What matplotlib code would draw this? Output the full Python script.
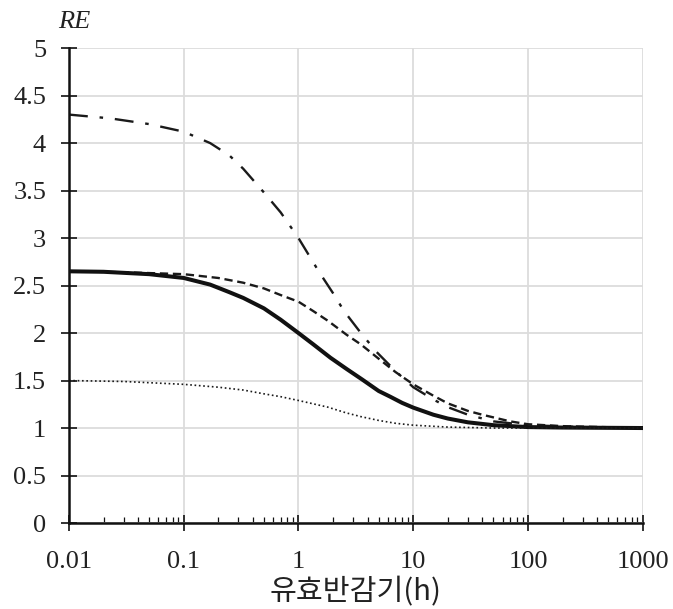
import numpy as np
import matplotlib.pyplot as plt
from matplotlib.ticker import LogLocator, FixedLocator, NullFormatter

# values (x = effective half-life in h)
x_dashdot = [0.01, 0.023, 0.05, 0.1, 0.17, 0.25, 0.33, 0.5, 0.7, 1.0, 1.5, 2.0, 2.5, 3.5, 4.8, 7, 10, 15, 20, 30, 50, 100, 300, 1000]
y_dashdot = [4.30, 4.26, 4.20, 4.12, 4.00, 3.87, 3.73, 3.48, 3.27, 3.00, 2.65, 2.42, 2.23, 2.00, 1.80, 1.60, 1.43, 1.30, 1.22, 1.14, 1.07, 1.03, 1.01, 1.00]

x_dashed = [0.01, 0.03, 0.1, 0.2, 0.33, 0.5, 0.7, 1.0, 1.35, 1.8, 2.64, 3.5, 5, 7, 10, 15, 20, 30, 40, 70, 100, 200, 1000]
y_dashed = [2.65, 2.64, 2.62, 2.58, 2.53, 2.47, 2.40, 2.33, 2.23, 2.13, 1.98, 1.88, 1.73, 1.59, 1.46, 1.34, 1.26, 1.18, 1.14, 1.07, 1.04, 1.02, 1.00]

x_solid = [0.01, 0.02, 0.05, 0.1, 0.17, 0.25, 0.33, 0.5, 0.7, 1.0, 1.35, 1.9, 2.64, 3.6, 5, 6.3, 8, 10, 15, 20, 30, 50, 100, 200, 1000]
y_solid = [2.65, 2.645, 2.62, 2.58, 2.51, 2.43, 2.37, 2.26, 2.14, 2.00, 1.88, 1.74, 1.62, 1.51, 1.39, 1.33, 1.265, 1.215, 1.14, 1.10, 1.06, 1.03, 1.01, 1.005, 1.00]

x_dotted = [0.01, 0.03, 0.1, 0.2, 0.33, 0.5, 0.7, 1.0, 1.4, 1.8, 2.6, 3.5, 5, 7, 10, 20, 50, 1000]
y_dotted = [1.50, 1.49, 1.46, 1.43, 1.40, 1.36, 1.33, 1.29, 1.25, 1.22, 1.16, 1.12, 1.08, 1.05, 1.03, 1.01, 1.00, 1.00]

xticks = [0.01, 0.1, 1, 10, 100, 1000]
xtick_labels = ["0.01", "0.1", "1", "10", "100", "1000"]
yticks = [0, 0.5, 1, 1.5, 2, 2.5, 3, 3.5, 4, 4.5, 5]
ytick_labels = ["0", "0.5", "1", "1.5", "2", "2.5", "3", "3.5", "4", "4.5", "5"]

fig = plt.figure(figsize=(6.73, 6.09), dpi=100)
ax = fig.add_axes([0.1025, 0.1412, 0.8525, 0.7798])

ax.plot(x_dashdot, y_dashdot, color="#1a1a1a", lw=1.7, dashes=(8, 5, 1.5, 5))
ax.plot(x_dashed, y_dashed, color="#1a1a1a", lw=1.7, dashes=(3.5, 2))
ax.plot(x_solid, y_solid, color="#111111", lw=2.9)
ax.plot(x_dotted, y_dotted, color="#1a1a1a", lw=1.2, dashes=(1, 1.6))

ax.set_xscale("log")
ax.set_xlim(0.01, 1000)
ax.set_ylim(0, 5)

ax.xaxis.set_major_locator(FixedLocator(xticks))
ax.set_xticklabels(xtick_labels)
ax.xaxis.set_minor_locator(LogLocator(base=10, subs=np.arange(2, 10), numticks=20))
ax.xaxis.set_minor_formatter(NullFormatter())
ax.set_yticks(yticks)
ax.set_yticklabels(ytick_labels)

ax.grid(True, which="major", color="#dcdcdc", lw=1.3)
ax.set_axisbelow(True)

for s in ["top", "right"]:
    ax.spines[s].set_visible(False)
for s in ["left", "bottom"]:
    ax.spines[s].set_linewidth(1.8)
    ax.spines[s].set_color("#111111")

ax.tick_params(axis="both", which="major", direction="inout", length=11, width=1.2,
               color="#111111", labelsize=19)
ax.tick_params(axis="y", which="major", pad=11)
ax.tick_params(axis="x", which="major", pad=15)
ax.tick_params(axis="x", which="minor", direction="in", length=4, width=0.9, color="#111111")
for lab in ax.get_xticklabels() + ax.get_yticklabels():
    lab.set_fontfamily("Liberation Serif")
    lab.set_color("#222222")

fig.text(58 / 673, 1 - 28 / 609, "RE", fontfamily="Liberation Serif", fontstyle="italic",
         fontsize=19, color="#222222", ha="left", va="baseline")
ax.set_xlabel("유효반감기(h)", fontfamily=["Noto Sans CJK KR", "DejaVu Sans"],
              fontsize=21, color="#222222", labelpad=3)

fig.savefig("out.png", dpi=100)
